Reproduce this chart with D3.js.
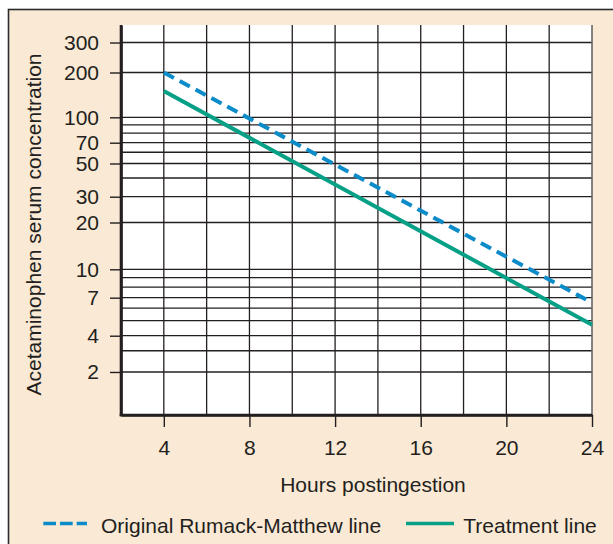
<!DOCTYPE html>
<html>
<head>
<meta charset="utf-8">
<script src="https://cdn.jsdelivr.net/npm/d3@7"></script>
<style>
  html, body { margin: 0; padding: 0; background: #ffffff; }
  svg { display: block; }
  text { font-family: "Liberation Sans", Arial, Helvetica, sans-serif; fill: #231f20; }
</style>
</head>
<body>
<svg id="chart" width="613" height="544"></svg>
<script>
// ---- data ----
const hours = [4, 24];
const rumackMatthew = [200, 6.5];
const treatment = [150, 4.7];
const xTickValues = [4, 8, 12, 16, 20, 24];
const xGridValues = [4, 6, 8, 10, 12, 14, 16, 18, 20, 22, 24];
const yTickValues = [300, 200, 100, 70, 50, 30, 20, 10, 7, 4, 2];
const yGridValues = [300, 200, 100, 90, 80, 70, 60, 50, 40, 30, 20, 10, 9, 8, 7, 6, 5, 4, 3, 2];
const legendLabels = ["Original Rumack-Matthew line", "Treatment line"];

// ---- layout ----
const svg = d3.select("#chart");
const plot = { left: 121, top: 25, right: 592, bottom: 415 };
const H = plot.bottom - plot.top;
const ink = "#231f20";
const blue = "#0b8cc9";
const green = "#06a087";
const fontSize = 21;

// frame
svg.append("rect")
  .attr("x", 8.5).attr("y", 9.5)
  .attr("width", 700).attr("height", 600)
  .attr("fill", "#fae9d4")
  .attr("stroke", "#2b2b2b").attr("stroke-width", 1.6);

// scales
const x = d3.scaleLinear().domain([2, 24]).range([plot.left, plot.right]);
// the printed grid is a hand-drawn log grid; piecewise log scale follows its labelled rulings
const yKnots = [400, 300, 200, 100, 70, 50, 30, 20, 10, 7, 4, 2, 1];
const yFrac  = [0, 0.0449, 0.1218, 0.2367, 0.3018, 0.3551, 0.4403, 0.5064, 0.6264, 0.6992, 0.7967, 0.8897, 1];
const y = d3.scaleLog().domain(yKnots).range(yFrac.map(f => plot.top + f * H));

// plot background
svg.append("rect")
  .attr("x", plot.left).attr("y", plot.top)
  .attr("width", plot.right - plot.left).attr("height", H)
  .attr("fill", "#ffffff");

// grid
const grid = svg.append("g");
grid.selectAll("line.h").data(yGridValues).join("line")
  .attr("x1", plot.left).attr("x2", plot.right)
  .attr("y1", d => y(d)).attr("y2", d => y(d))
  .attr("stroke", ink).attr("stroke-width", 1.3);
grid.selectAll("line.v").data(xGridValues).join("line")
  .attr("x1", d => x(d)).attr("x2", d => x(d))
  .attr("y1", plot.top).attr("y2", plot.bottom)
  .attr("stroke", d => d === 24 ? "#666" : ink).attr("stroke-width", d => d === 24 ? 1.6 : 1.3);

// axes
const yAxis = svg.append("g")
  .attr("transform", `translate(${plot.left},0)`)
  .call(d3.axisLeft(y).tickValues(yTickValues).tickFormat(d3.format("d")).tickSize(11).tickSizeOuter(0).tickPadding(11));
const xAxis = svg.append("g")
  .attr("transform", `translate(0,${plot.bottom})`)
  .call(d3.axisBottom(x).tickValues(xTickValues).tickFormat(d3.format("d")).tickSize(12).tickSizeOuter(0).tickPadding(13));
[yAxis, xAxis].forEach(a => {
  a.select(".domain").attr("stroke", ink).attr("stroke-width", 2.6);
  a.selectAll(".tick line").attr("stroke", ink).attr("stroke-width", 1.4);
  a.selectAll(".tick text").style("font-size", fontSize + "px").attr("fill", ink)
    .style("font-family", '"Liberation Sans", Arial, sans-serif');
});
// frame the plot bottom/left thick edges fully
svg.append("line").attr("x1", plot.left).attr("x2", plot.left).attr("y1", plot.top).attr("y2", plot.bottom + 1.3)
  .attr("stroke", ink).attr("stroke-width", 2.6);
svg.append("line").attr("x1", plot.left - 1.3).attr("x2", plot.right).attr("y1", plot.bottom).attr("y2", plot.bottom)
  .attr("stroke", ink).attr("stroke-width", 2.6);

// lines
const line = d3.line().x(d => x(d[0])).y(d => y(d[1]));
svg.append("path")
  .datum(hours.map((h, i) => [h, treatment[i]]))
  .attr("d", line).attr("fill", "none")
  .attr("stroke", green).attr("stroke-width", 4);
svg.append("path")
  .datum(hours.map((h, i) => [h, rumackMatthew[i]]))
  .attr("d", line).attr("fill", "none")
  .attr("stroke", blue).attr("stroke-width", 4)
  .attr("stroke-dasharray", "11.5,6.5");

// axis titles
svg.append("text")
  .attr("x", 373).attr("y", 492)
  .attr("text-anchor", "middle")
  .style("font-size", fontSize + "px")
  .text("Hours postingestion");
svg.append("text")
  .attr("transform", "translate(41,224.5) rotate(-90)")
  .attr("text-anchor", "middle")
  .style("font-size", fontSize + "px")
  .text("Acetaminophen serum concentration");

// legend
const legY = 523.5;
svg.append("line").attr("x1", 43.3).attr("x2", 87).attr("y1", legY).attr("y2", legY)
  .attr("stroke", blue).attr("stroke-width", 3.6).attr("stroke-dasharray", "12.7,4");
svg.append("text").attr("x", 101).attr("y", 532.5).style("font-size", fontSize + "px").text(legendLabels[0]);
svg.append("line").attr("x1", 406).attr("x2", 454).attr("y1", legY).attr("y2", legY)
  .attr("stroke", green).attr("stroke-width", 3.6);
svg.append("text").attr("x", 463.3).attr("y", 532.5).style("font-size", fontSize + "px").text(legendLabels[1]);
</script>
</body>
</html>
